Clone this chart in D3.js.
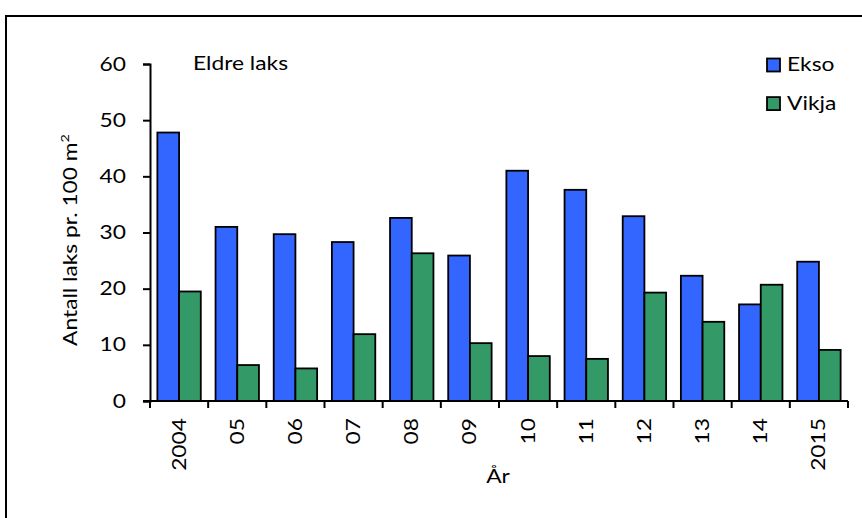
<!DOCTYPE html>
<html>
<head>
<meta charset="utf-8">
<script src="https://cdn.jsdelivr.net/npm/d3@7"></script>
<style>
  body { margin: 0; background: #fff; }
  svg text { font-family: Lato, "Open Sans", sans-serif; fill: #000; }
</style>
</head>
<body>
<svg id="chart"></svg>
<script>
// Eldre laks - Ekso vs Vikja, grouped bars

let years = ['2004', '05', '06', '07', '08', '09', '10', '11', '12', '13', '14', '2015'];
let series = ['Ekso', 'Vikja'];
let ekso = [47.8, 31.0, 29.7, 28.3, 32.6, 25.9, 41.0, 37.6, 32.9, 22.3, 17.2, 24.8];
let vikja = [19.5, 6.4, 5.8, 11.9, 26.3, 10.3, 8.0, 7.5, 19.3, 14.1, 20.7, 9.1];
let yTicks = [0, 10, 20, 30, 40, 50, 60];
let colors = ['#3366ff', '#339966'];

let w = 862;
let h = 518;
let fs = '19px';
let stretch = 'scale(1.2,1)'; // source font is wider than Lato

let dataset = years.map((y, i) => ({ year: y, values: [ekso[i], vikja[i]] }));

let svg = d3.select('#chart')
  .attr('width', w)
  .attr('height', h);

// outer frame (right / bottom fall outside the picture)
svg.append('rect')
  .attr('x', 6).attr('y', 16)
  .attr('width', 900).attr('height', 600)
  .attr('fill', 'none')
  .attr('stroke', '#000')
  .attr('stroke-width', 2);

let xScale = d3.scaleBand()
  .domain(years)
  .range([150, 848])
  .padding(0);

let xInner = d3.scaleBand()
  .domain(series)
  .range([0, xScale.bandwidth()])
  .paddingInner(0)
  .paddingOuter(0.34);

let yScale = d3.scaleLinear()
  .domain([0, 60])
  .range([401, 64]);

// bars
let groups = svg.selectAll('g.year')
  .data(dataset)
  .enter()
  .append('g')
  .attr('class', 'year')
  .attr('transform', (d) => `translate(${xScale(d.year)},0)`);

groups.selectAll('rect')
  .data((d) => d.values.map((v, i) => ({ key: series[i], value: v, idx: i })))
  .enter()
  .append('rect')
  .attr('x', (d) => xInner(d.key))
  .attr('y', (d) => yScale(d.value))
  .attr('width', xInner.bandwidth())
  .attr('height', (d) => yScale(0) - yScale(d.value))
  .attr('fill', (d) => colors[d.idx])
  .attr('stroke', '#000')
  .attr('stroke-width', 1.8);

// y axis
let yAxis = d3.axisLeft(yScale)
  .tickValues(yTicks)
  .tickSize(7);
let yAxisGroup = svg.append('g')
  .attr('transform', 'translate(150,0)')
  .call(yAxis);
yAxisGroup.select('.domain').attr('stroke-width', 2);
yAxisGroup.selectAll('.tick line').attr('stroke-width', 2);
yAxisGroup.selectAll('.tick text')
  .attr('x', null)
  .attr('transform', `translate(-24,0) ${stretch}`)
  .style('font-size', fs);

// x axis: line plus ticks at band edges
svg.append('line')
  .attr('x1', 143).attr('x2', xScale.range()[1])
  .attr('y1', 401).attr('y2', 401)
  .attr('stroke', '#000').attr('stroke-width', 2);

svg.selectAll('line.xtick')
  .data(years.concat(['end']))
  .enter()
  .append('line')
  .attr('class', 'xtick')
  .attr('x1', (d) => d === 'end' ? xScale.range()[1] : xScale(d))
  .attr('x2', (d) => d === 'end' ? xScale.range()[1] : xScale(d))
  .attr('y1', 401).attr('y2', 408)
  .attr('stroke', '#000').attr('stroke-width', 2);

svg.selectAll('text.xlab')
  .data(years)
  .enter()
  .append('text')
  .attr('class', 'xlab')
  .attr('transform', (d) => `translate(${xScale(d) + xScale.bandwidth() / 2 + 6.5},418) rotate(-90) ${stretch}`)
  .attr('text-anchor', 'end')
  .style('font-size', fs)
  .text((d) => d);

// axis titles
svg.append('text')
  .attr('transform', `translate(498,483) ${stretch}`)
  .attr('text-anchor', 'middle')
  .style('font-size', fs)
  .text('År');

let yTitle = svg.append('text')
  .attr('transform', `translate(77,240) rotate(-90) ${stretch}`)
  .attr('text-anchor', 'middle')
  .style('font-size', fs);
yTitle.append('tspan').text('Antall laks pr. 100 m');
yTitle.append('tspan').attr('dy', -8).style('font-size', '12px').text('2');

// panel label
svg.append('text')
  .attr('transform', `translate(193,70) ${stretch}`)
  .style('font-size', fs)
  .text('Eldre laks');

// legend
let legend = svg.selectAll('g.legend')
  .data(series)
  .enter()
  .append('g')
  .attr('class', 'legend')
  .attr('transform', (d, i) => `translate(767,${58.5 + i * 38.6})`);

legend.append('rect')
  .attr('width', 13).attr('height', 13)
  .attr('fill', (d, i) => colors[i])
  .attr('stroke', '#000').attr('stroke-width', 1.8);

legend.append('text')
  .attr('transform', `translate(20,12.5) ${stretch}`)
  .style('font-size', fs)
  .text((d) => d);
</script>
</body>
</html>
